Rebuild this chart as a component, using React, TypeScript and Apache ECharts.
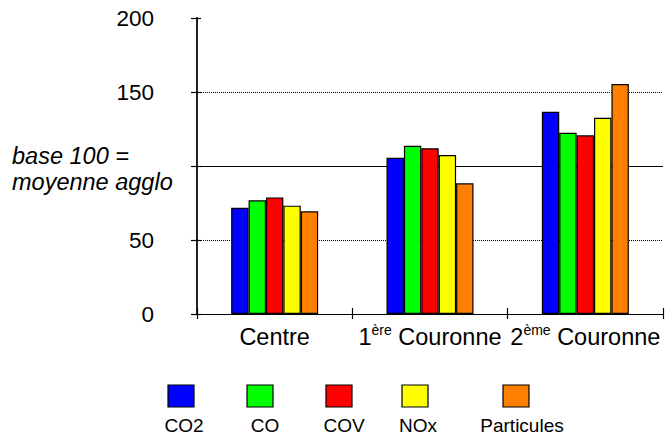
import React, { useEffect, useRef } from "react";
import * as echarts from "echarts";

const categories = ["Centre", "1ère Couronne", "2ème Couronne"];
const seriesNames = ["CO2", "CO", "COV", "NOx", "Particules"];
const seriesColors = ["#0000FF", "#00FF00", "#FF0000", "#FFFF00", "#FF8000"];
const co2 = [71.8, 105.6, 136.7];
const co = [76.8, 113.7, 122.5];
const cov = [78.8, 112, 120.7];
const nox = [73.2, 107.4, 132.6];
const particules = [69.4, 88.3, 155.4];
const seriesValues = [co2, co, cov, nox, particules];
const yTickLabels = [0, 50, 150, 200];
const refLines = [50, 100, 150];

const legendBoxX = [168, 247, 326, 402, 503];
const legendTextX = [184, 265, 344, 418, 522];

const FONT = "Liberation Sans, Arial, sans-serif";

export default function App() {
  const ref = useRef<HTMLDivElement>(null);
  useEffect(() => {
    document.body.style.margin = "0";
    if (!ref.current) return;
    const chart = echarts.init(ref.current, null, { renderer: "svg" });
    const series: any[] = seriesValues.map((vals, i) => ({
      type: "bar",
      name: seriesNames[i],
      data: vals,
      barGap: "0%",
      barCategoryGap: "44%",
      z: 3,
      itemStyle: { color: seriesColors[i], borderColor: "#000", borderWidth: 1.2 },
      ...(i === 0
        ? {
            markLine: {
              silent: true,
              symbol: "none",
              z: 1,
              label: { show: false },
              data: refLines.map((v) => ({
                yAxis: v,
                lineStyle: {
                  color: "#000",
                  width: v === 100 ? 1.2 : 1,
                  type: v === 100 ? "solid" : [1, 1],
                },
              })),
            },
          }
        : {}),
    }));
    chart.setOption({
      animation: false,
      textStyle: { fontFamily: FONT },
      grid: { left: 197, right: 9, top: 18, bottom: 122, containLabel: false },
      xAxis: [
        {
          type: "category",
          data: categories,
          axisLine: { lineStyle: { color: "#000", width: 1.2 } },
          axisTick: { show: true, length: 5, lineStyle: { color: "#000", width: 1.2 } },
          axisLabel: {
            interval: 0,
            hideOverlap: false,
            margin: 9,
            formatter: (v: string) => {
              const m = v.match(/^(\d)(ère|ème) (.*)$/);
              if (m) return `{n|${m[1]}}{s|${m[2]}}{n| ${m[3]}}`;
              return `{n|${v}}`;
            },
            rich: {
              n: { fontSize: 23.5, lineHeight: 27, color: "#000", fontFamily: FONT },
              s: { fontSize: 14, lineHeight: 14, verticalAlign: "top", color: "#000", fontFamily: FONT },
            },
          },
        },
        {
          type: "category",
          data: categories,
          position: "bottom",
          axisLine: { show: false },
          axisTick: { show: true, inside: true, length: 6, lineStyle: { color: "#000", width: 1.2 } },
          axisLabel: { show: false },
        },
      ],
      yAxis: [
        {
          type: "value",
          min: 0,
          max: 200,
          interval: 50,
          axisLine: { show: true, lineStyle: { color: "#222", width: 2 } },
          axisTick: { show: true, length: 6, lineStyle: { color: "#000", width: 1.2 } },
          splitLine: { show: false },
          axisLabel: {
            margin: 43,
            fontSize: 22.5,
            color: "#000",
            fontFamily: FONT,
            formatter: (v: number) => (yTickLabels.includes(v) ? String(v) : ""),
          },
        },
        {
          type: "value",
          min: 0,
          max: 200,
          interval: 50,
          position: "left",
          axisLine: { show: false },
          axisTick: { show: true, inside: true, length: 4, lineStyle: { color: "#000", width: 1.2 } },
          splitLine: { show: false },
          axisLabel: { show: false },
        },
      ],
      series,
      graphic: [
        {
          type: "text",
          left: 12,
          top: 143,
          style: {
            text: "base 100 =\nmoyenne agglo",
            fontSize: 23.5,
            fontStyle: "italic",
            lineHeight: 26,
            fill: "#000",
            fontFamily: FONT,
          },
        },
        ...seriesNames.map((_, i) => ({
          type: "rect",
          shape: { x: legendBoxX[i], y: 385, width: 26, height: 22 },
          style: { fill: seriesColors[i], stroke: "#000", lineWidth: 1.2 },
        })),
        ...seriesNames.map((name, i) => ({
          type: "text",
          x: legendTextX[i],
          y: 425,
          style: {
            text: name,
            fontSize: 19,
            fill: "#000",
            fontFamily: FONT,
            align: "center",
            verticalAlign: "middle",
          },
        })),
      ],
    });
    return () => chart.dispose();
  }, []);
  return <div ref={ref} style={{ width: 672, height: 436 }} />;
}
